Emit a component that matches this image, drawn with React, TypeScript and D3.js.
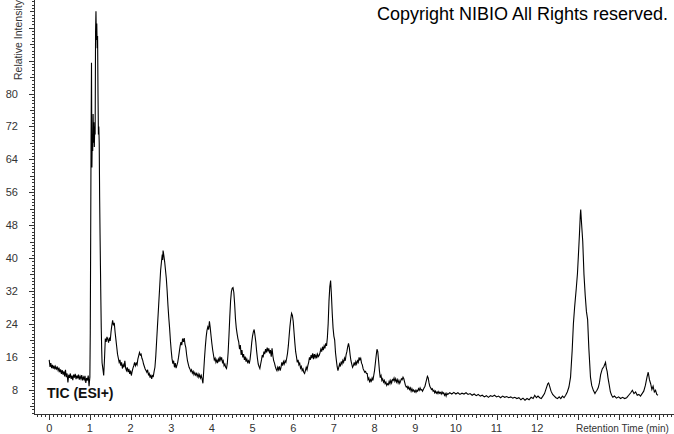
import React, { useEffect, useRef } from 'react';
import * as d3 from 'd3';

// TIC trace: [retention time (min), relative intensity]
const ticTrace: [number, number][] = [
  [0.00, 15.2], [0.02, 13.5], [0.04, 14.4], [0.06, 13.2], [0.08, 14.0], [0.10, 13.1], [0.12, 13.8], [0.14, 12.9],
  [0.16, 13.6], [0.18, 13.0], [0.20, 13.4], [0.22, 12.6], [0.24, 13.3], [0.26, 12.2], [0.28, 12.9], [0.30, 11.8],
  [0.32, 12.7], [0.34, 11.6], [0.36, 12.4], [0.38, 11.2], [0.40, 12.8], [0.42, 11.0], [0.44, 11.9], [0.46, 9.7],
  [0.48, 11.6], [0.50, 10.8], [0.52, 11.9], [0.54, 10.6], [0.56, 11.4], [0.58, 10.3], [0.60, 11.6], [0.62, 10.9],
  [0.64, 11.8], [0.66, 10.5], [0.68, 11.4], [0.70, 10.7], [0.72, 11.6], [0.74, 10.4], [0.76, 11.2], [0.78, 10.6],
  [0.80, 11.5], [0.82, 10.2], [0.84, 11.0], [0.86, 10.4], [0.88, 11.3], [0.90, 9.6], [0.92, 10.8], [0.94, 10.2],
  [0.96, 11.4], [0.98, 8.8], [1.00, 11.0], [1.01, 22], [1.02, 45], [1.03, 70], [1.04, 87.5], [1.05, 62],
  [1.06, 70], [1.07, 66], [1.08, 75], [1.09, 68], [1.10, 73], [1.11, 67], [1.12, 72], [1.13, 70],
  [1.14, 95], [1.15, 100], [1.16, 93], [1.17, 97], [1.18, 91], [1.19, 94], [1.20, 80], [1.21, 70],
  [1.22, 72], [1.23, 68], [1.24, 55], [1.25, 46], [1.26, 38], [1.27, 30], [1.28, 23], [1.29, 18],
  [1.30, 14.5], [1.32, 13.0], [1.34, 11.4], [1.36, 15.5], [1.38, 20.4], [1.40, 19.6], [1.42, 20.8], [1.44, 20.2],
  [1.46, 19.4], [1.48, 20.6], [1.50, 19.8], [1.52, 22.0], [1.54, 23.6], [1.56, 24.8], [1.58, 23.6], [1.60, 24.2],
  [1.62, 22.0], [1.64, 20.2], [1.66, 18.4], [1.68, 16.6], [1.70, 15.6], [1.72, 14.6], [1.74, 15.2], [1.76, 13.8],
  [1.78, 14.6], [1.80, 13.1], [1.82, 14.0], [1.84, 13.4], [1.86, 15.0], [1.88, 13.2], [1.90, 12.6], [1.92, 13.4],
  [1.94, 12.2], [1.96, 13.0], [1.98, 11.8], [2.00, 12.6], [2.02, 11.4], [2.04, 12.4], [2.06, 13.2], [2.08, 13.8],
  [2.10, 14.6], [2.12, 13.8], [2.14, 14.4], [2.16, 14.0], [2.18, 15.4], [2.20, 16.2], [2.22, 17.0], [2.24, 16.4],
  [2.26, 16.6], [2.28, 15.6], [2.30, 15.1], [2.32, 14.2], [2.34, 13.6], [2.36, 13.0], [2.38, 12.6], [2.40, 12.2],
  [2.42, 12.8], [2.44, 11.6], [2.46, 11.9], [2.48, 10.9], [2.50, 11.6], [2.52, 10.6], [2.54, 11.4], [2.56, 11.2],
  [2.58, 12.4], [2.60, 13.4], [2.62, 16.0], [2.64, 19.5], [2.66, 23.0], [2.68, 26.5], [2.70, 30.0], [2.72, 33.5],
  [2.74, 37.0], [2.76, 39.0], [2.78, 40.8], [2.79, 39.5], [2.80, 41.8], [2.81, 41.2], [2.82, 40.5], [2.84, 39.0],
  [2.86, 37.0], [2.88, 35.0], [2.90, 32.0], [2.92, 28.5], [2.94, 25.5], [2.96, 23.0], [2.98, 20.0], [3.00, 17.5],
  [3.02, 15.5], [3.04, 14.3], [3.06, 15.0], [3.08, 13.4], [3.10, 14.4], [3.12, 13.2], [3.14, 13.9], [3.16, 14.6],
  [3.18, 15.8], [3.20, 17.2], [3.22, 18.6], [3.24, 19.5], [3.26, 18.8], [3.28, 20.4], [3.30, 19.6], [3.32, 20.5],
  [3.34, 19.0], [3.36, 18.2], [3.38, 16.4], [3.40, 15.0], [3.42, 14.2], [3.44, 13.4], [3.46, 13.0], [3.48, 12.4],
  [3.50, 12.8], [3.52, 12.0], [3.54, 12.4], [3.56, 11.6], [3.58, 12.1], [3.60, 11.5], [3.62, 11.9], [3.64, 11.2],
  [3.66, 11.8], [3.68, 11.0], [3.70, 11.6], [3.72, 10.8], [3.74, 11.4], [3.76, 10.6], [3.78, 9.5], [3.80, 12.6],
  [3.82, 15.8], [3.84, 18.5], [3.86, 20.8], [3.88, 22.4], [3.90, 23.2], [3.92, 22.6], [3.94, 24.6], [3.96, 23.0],
  [3.98, 21.0], [4.00, 19.2], [4.02, 17.6], [4.04, 16.4], [4.06, 15.2], [4.08, 15.6], [4.10, 14.6], [4.12, 15.2],
  [4.14, 14.4], [4.16, 15.4], [4.18, 14.8], [4.20, 16.0], [4.22, 15.2], [4.24, 15.8], [4.26, 14.6], [4.28, 15.0],
  [4.30, 13.8], [4.32, 14.2], [4.34, 13.4], [4.36, 13.1], [4.38, 14.4], [4.40, 17.0], [4.42, 21.0], [4.44, 25.5],
  [4.46, 29.5], [4.48, 31.8], [4.50, 32.6], [4.52, 32.8], [4.54, 31.6], [4.56, 28.8], [4.58, 25.2], [4.60, 23.0],
  [4.62, 21.6], [4.64, 20.4], [4.66, 19.6], [4.68, 17.8], [4.70, 18.8], [4.72, 16.4], [4.74, 17.6], [4.76, 15.8],
  [4.78, 16.6], [4.80, 15.2], [4.82, 16.0], [4.84, 14.8], [4.86, 15.4], [4.88, 14.6], [4.90, 15.0], [4.92, 14.3],
  [4.94, 15.4], [4.96, 17.2], [4.98, 19.4], [5.00, 21.0], [5.02, 22.0], [5.04, 22.6], [5.06, 21.2], [5.08, 19.6],
  [5.10, 17.4], [5.12, 15.6], [5.14, 14.2], [5.16, 13.6], [5.18, 13.1], [5.20, 14.2], [5.22, 15.2], [5.24, 16.4],
  [5.26, 15.8], [5.28, 17.2], [5.30, 16.6], [5.32, 17.8], [5.34, 17.0], [5.36, 18.2], [5.38, 17.4], [5.40, 18.0],
  [5.42, 16.8], [5.44, 17.6], [5.46, 16.0], [5.48, 18.0], [5.50, 16.2], [5.52, 15.0], [5.54, 14.4], [5.56, 13.6],
  [5.58, 13.0], [5.60, 12.6], [5.62, 13.4], [5.64, 12.8], [5.66, 13.6], [5.68, 12.6], [5.70, 13.4], [5.72, 14.6],
  [5.74, 13.8], [5.76, 14.8], [5.78, 14.2], [5.80, 15.0], [5.82, 14.6], [5.84, 15.6], [5.86, 16.8], [5.88, 18.6],
  [5.90, 21.0], [5.92, 23.4], [5.94, 25.2], [5.96, 26.5], [5.98, 26.0], [6.00, 24.6], [6.02, 22.0], [6.04, 19.4],
  [6.06, 17.2], [6.08, 16.0], [6.10, 14.6], [6.12, 15.2], [6.14, 14.0], [6.16, 14.4], [6.18, 13.2], [6.20, 13.6],
  [6.22, 12.6], [6.24, 13.0], [6.26, 12.2], [6.28, 11.9], [6.30, 12.6], [6.32, 13.4], [6.34, 12.8], [6.36, 13.8],
  [6.38, 14.6], [6.40, 15.8], [6.42, 15.2], [6.44, 16.4], [6.46, 15.6], [6.48, 16.8], [6.50, 15.4], [6.52, 16.6],
  [6.54, 15.8], [6.56, 16.4], [6.58, 15.6], [6.60, 16.6], [6.62, 16.0], [6.64, 16.3], [6.66, 17.0], [6.68, 17.8],
  [6.70, 17.2], [6.72, 18.4], [6.74, 17.6], [6.76, 18.6], [6.78, 18.0], [6.80, 19.2], [6.82, 18.6], [6.84, 20.6],
  [6.86, 24.0], [6.88, 29.5], [6.90, 33.0], [6.92, 34.5], [6.94, 31.0], [6.96, 26.5], [6.98, 23.0], [7.00, 21.0],
  [7.02, 20.0], [7.04, 17.0], [7.06, 15.2], [7.08, 13.6], [7.10, 12.6], [7.12, 13.4], [7.14, 14.2], [7.16, 13.6],
  [7.18, 14.8], [7.20, 14.2], [7.22, 15.1], [7.24, 14.6], [7.26, 15.6], [7.28, 15.0], [7.30, 16.4], [7.32, 17.2],
  [7.34, 18.4], [7.36, 19.2], [7.38, 18.2], [7.40, 16.4], [7.42, 15.0], [7.44, 14.2], [7.46, 13.4], [7.48, 13.8],
  [7.50, 14.6], [7.52, 13.8], [7.54, 14.8], [7.56, 14.2], [7.58, 15.0], [7.60, 14.6], [7.62, 15.8], [7.64, 15.2],
  [7.66, 15.6], [7.68, 14.4], [7.70, 14.0], [7.72, 13.0], [7.74, 12.6], [7.76, 12.2], [7.78, 12.4], [7.80, 11.9],
  [7.82, 11.9], [7.84, 10.4], [7.86, 10.8], [7.88, 9.7], [7.90, 10.4], [7.92, 10.0], [7.94, 10.8], [7.96, 10.2],
  [7.98, 11.4], [8.00, 12.6], [8.02, 14.4], [8.04, 16.2], [8.06, 17.8], [8.08, 17.2], [8.10, 15.0], [8.12, 12.6],
  [8.14, 10.9], [8.16, 11.4], [8.18, 10.2], [8.20, 10.6], [8.22, 9.8], [8.24, 10.2], [8.26, 9.4], [8.28, 9.8],
  [8.30, 9.0], [8.32, 9.4], [8.34, 9.2], [8.36, 10.0], [8.38, 9.4], [8.40, 10.2], [8.42, 9.6], [8.44, 10.4],
  [8.46, 10.2], [8.48, 10.8], [8.50, 10.0], [8.52, 10.6], [8.54, 9.8], [8.56, 10.4], [8.58, 9.6], [8.60, 10.2],
  [8.62, 9.5], [8.64, 10.0], [8.66, 10.6], [8.68, 10.4], [8.70, 11.0], [8.72, 10.6], [8.74, 9.8], [8.76, 9.0],
  [8.78, 8.6], [8.80, 8.8], [8.82, 8.2], [8.84, 8.6], [8.86, 8.0], [8.88, 8.4], [8.90, 7.6], [8.92, 8.2],
  [8.94, 7.6], [8.96, 7.9], [8.98, 7.4], [9.00, 7.8], [9.02, 7.3], [9.04, 7.8], [9.06, 7.6], [9.08, 8.2],
  [9.10, 7.8], [9.12, 8.4], [9.14, 7.9], [9.16, 8.0], [9.18, 7.6], [9.20, 8.0], [9.22, 8.4], [9.24, 8.8],
  [9.26, 9.6], [9.28, 10.4], [9.30, 11.2], [9.32, 10.8], [9.34, 9.6], [9.36, 8.8], [9.38, 8.4], [9.40, 8.0],
  [9.42, 8.2], [9.44, 7.6], [9.46, 7.8], [9.48, 7.2], [9.50, 7.6], [9.52, 7.1], [9.54, 7.4], [9.56, 7.0],
  [9.58, 7.5], [9.60, 7.1], [9.62, 7.3], [9.64, 6.9], [9.66, 7.4], [9.68, 7.0], [9.70, 7.2], [9.72, 6.6],
  [9.74, 7.0], [9.76, 6.4], [9.78, 7.1], [9.80, 6.8], [9.85, 7.2], [9.90, 6.9], [9.95, 7.3], [10.00, 6.9],
  [10.05, 7.2], [10.10, 6.8], [10.15, 7.1], [10.20, 6.9], [10.25, 7.2], [10.30, 6.8], [10.35, 7.0], [10.40, 6.6],
  [10.45, 6.9], [10.50, 6.5], [10.55, 6.8], [10.60, 6.4], [10.65, 6.6], [10.70, 6.2], [10.75, 6.5], [10.80, 6.1],
  [10.85, 6.5], [10.90, 6.3], [10.95, 6.6], [11.00, 6.2], [11.05, 6.4], [11.10, 6.0], [11.15, 6.4], [11.20, 6.1],
  [11.25, 6.3], [11.30, 6.0], [11.35, 6.2], [11.40, 5.9], [11.45, 6.1], [11.50, 5.8], [11.55, 6.0], [11.60, 5.5],
  [11.65, 5.9], [11.70, 5.4], [11.75, 5.8], [11.80, 5.5], [11.85, 6.1], [11.90, 5.8], [11.94, 6.6], [11.98, 6.0],
  [12.02, 6.4], [12.06, 6.0], [12.10, 5.8], [12.14, 6.4], [12.18, 7.0], [12.22, 8.2], [12.26, 9.4], [12.28, 9.6],
  [12.30, 9.0], [12.34, 7.6], [12.38, 6.8], [12.42, 6.4], [12.46, 6.0], [12.50, 5.8], [12.54, 6.2], [12.58, 5.8],
  [12.62, 6.4], [12.66, 6.0], [12.70, 6.6], [12.74, 7.4], [12.78, 8.6], [12.82, 11.0], [12.86, 17.5], [12.89, 24.0],
  [12.92, 28.0], [12.96, 32.5], [12.99, 36.2], [13.02, 42.0], [13.04, 46.0], [13.06, 50.5], [13.07, 51.8], [13.09, 48.5],
  [13.12, 44.0], [13.15, 36.0], [13.18, 31.0], [13.21, 27.0], [13.24, 25.0], [13.27, 18.0], [13.31, 11.0], [13.34, 9.0],
  [13.38, 7.8], [13.42, 7.0], [13.44, 7.4], [13.47, 7.8], [13.50, 8.4], [13.53, 9.6], [13.56, 11.6], [13.60, 13.0],
  [13.64, 13.6], [13.68, 14.6], [13.70, 13.2], [13.72, 12.4], [13.74, 10.9], [13.77, 9.2], [13.80, 7.4], [13.83, 6.6],
  [13.86, 6.1], [13.90, 6.4], [13.95, 5.9], [14.00, 6.2], [14.05, 5.8], [14.10, 6.1], [14.15, 5.8], [14.20, 6.0],
  [14.25, 6.6], [14.30, 7.2], [14.34, 7.8], [14.38, 7.0], [14.42, 7.4], [14.46, 6.6], [14.50, 6.8], [14.54, 6.4],
  [14.58, 7.0], [14.62, 7.6], [14.66, 9.0], [14.70, 11.0], [14.73, 12.2], [14.76, 10.4], [14.79, 9.4], [14.82, 8.0],
  [14.85, 8.8], [14.88, 7.4], [14.91, 7.8], [14.94, 6.8], [14.97, 6.6],
];

const xTickLabels = [0, 1, 2, 3, 4, 5, 6, 7, 8, 9, 10, 11, 12];
const yTickLabels = [8, 16, 24, 32, 40, 48, 56, 64, 72, 80];

const copyrightText = 'Copyright NIBIO All Rights reserved.';
const traceLabel = 'TIC (ESI+)';
const xAxisTitle = 'Retention Time (min)';
const yAxisTitle = 'Relative Intensity';

const TicChart: React.FC = () => {
  const svgRef = useRef<SVGSVGElement>(null);

  useEffect(() => {
    if (!svgRef.current) return;
    document.body.style.margin = '0';

    const svg = d3.select(svgRef.current);
    svg.selectAll('*').remove();

    const width = 674;
    const axisX = 34;   // y axis position
    const axisY = 414;  // x axis position
    const font = 'Liberation Sans, Arial, sans-serif';
    const axisColor = '#333';

    const x = d3.scaleLinear().domain([0, 12]).range([49.2, 537.2]);
    const y = d3.scaleLinear().domain([8, 80]).range([389.5, 93.5]);

    // axis lines
    svg.append('line')
      .attr('x1', axisX).attr('x2', width)
      .attr('y1', axisY + 0.5).attr('y2', axisY + 0.5)
      .attr('stroke', axisColor);
    svg.append('line')
      .attr('x1', axisX + 0.5).attr('x2', axisX + 0.5)
      .attr('y1', 0).attr('y2', axisY + 1)
      .attr('stroke', axisColor);

    // x ticks: every 0.1 min, longer at .5 and whole minutes
    const tMin = Math.ceil(x.invert(axisX + 1) * 10);
    const tMax = Math.floor(x.invert(width - 1) * 10);
    svg.append('g')
      .selectAll('line')
      .data(d3.range(tMin, tMax + 1))
      .join('line')
      .attr('x1', k => Math.round(x(k / 10)) + 0.5)
      .attr('x2', k => Math.round(x(k / 10)) + 0.5)
      .attr('y1', axisY + 1)
      .attr('y2', k => axisY + 1 + (k % 10 === 0 ? 5 : k % 5 === 0 ? 3 : 2))
      .attr('stroke', axisColor);

    // y ticks: every 0.8, longer every 4, longest every 8
    const vMin = Math.ceil(y.invert(axisY - 1) / 0.8);
    const vMax = Math.floor(y.invert(0) / 0.8);
    svg.append('g')
      .selectAll('line')
      .data(d3.range(vMin, vMax + 1))
      .join('line')
      .attr('y1', k => Math.round(y(k * 0.8)) + 0.5)
      .attr('y2', k => Math.round(y(k * 0.8)) + 0.5)
      .attr('x1', axisX)
      .attr('x2', k => axisX - (k % 10 === 0 ? 5 : k % 5 === 0 ? 4 : 2))
      .attr('stroke', axisColor);

    // tick labels
    svg.append('g')
      .attr('font-family', font)
      .attr('font-size', 11)
      .attr('fill', axisColor)
      .attr('text-anchor', 'middle')
      .selectAll('text')
      .data(xTickLabels)
      .join('text')
      .attr('x', d => x(d))
      .attr('y', 432)
      .text(d => d);

    svg.append('g')
      .attr('font-family', font)
      .attr('font-size', 11)
      .attr('fill', axisColor)
      .attr('text-anchor', 'end')
      .selectAll('text')
      .data(yTickLabels)
      .join('text')
      .attr('x', 18)
      .attr('y', d => y(d) + 4)
      .text(d => d);

    // axis titles
    svg.append('text')
      .attr('x', 576)
      .attr('y', 432)
      .attr('font-family', font)
      .attr('font-size', 10)
      .attr('fill', axisColor)
      .text(xAxisTitle);

    svg.append('text')
      .attr('transform', 'translate(22,80) rotate(-90)')
      .attr('font-family', font)
      .attr('font-size', 10.5)
      .attr('fill', axisColor)
      .text(yAxisTitle);

    // the trace
    const line = d3.line<[number, number]>()
      .x(d => x(d[0]))
      .y(d => y(d[1]));

    svg.append('path')
      .datum(ticTrace)
      .attr('d', line)
      .attr('fill', 'none')
      .attr('stroke', '#000')
      .attr('stroke-width', 1.1)
      .attr('stroke-linejoin', 'miter');

    // labels
    svg.append('text')
      .attr('x', 47)
      .attr('y', 398)
      .attr('font-family', font)
      .attr('font-size', 14)
      .attr('font-weight', 'bold')
      .attr('fill', '#111')
      .text(traceLabel);

    svg.append('text')
      .attr('x', 377)
      .attr('y', 20)
      .attr('font-family', font)
      .attr('font-size', 18)
      .attr('fill', '#000')
      .text(copyrightText);
  }, []);

  return <svg ref={svgRef} width={674} height={434} style={{ display: 'block', background: '#fff' }} />;
};

export default function App() {
  return <TicChart />;
}
